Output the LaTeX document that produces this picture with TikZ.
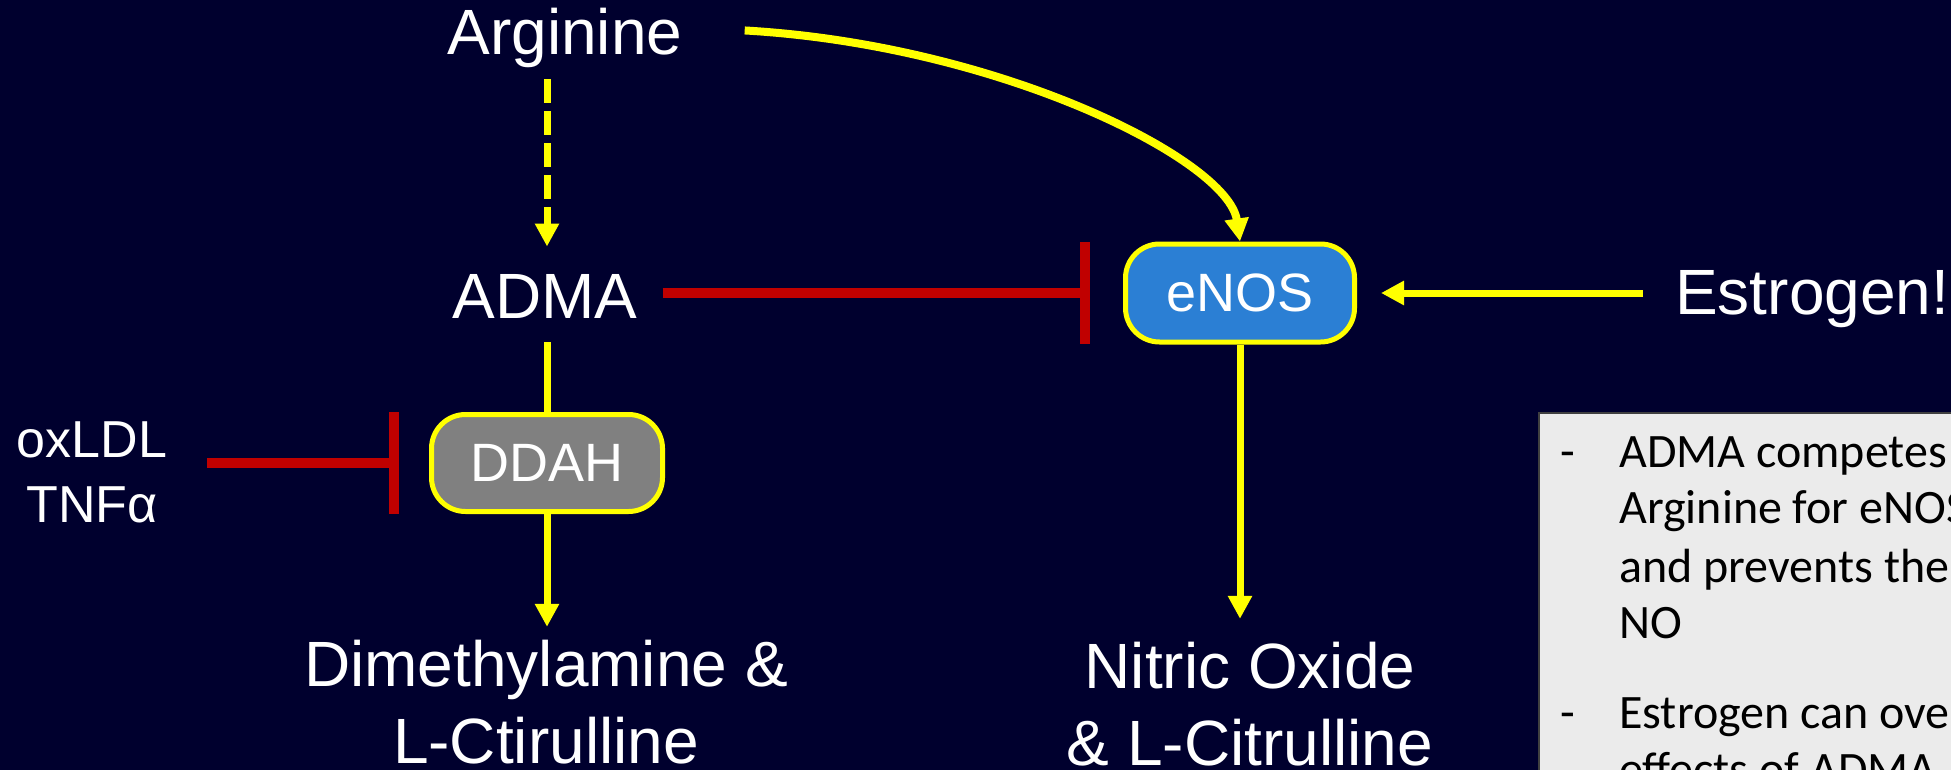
\documentclass[tikz,border=0pt]{standalone}
\usepackage{fontspec}
\setmainfont{Liberation Sans}
\newfontfamily\calib{Carlito}
\usetikzlibrary{arrows.meta,calc}
\definecolor{bg}{RGB}{0,0,46}
\definecolor{ylw}{RGB}{255,255,0}
\definecolor{rd}{RGB}{192,0,0}
\definecolor{enosblue}{RGB}{43,127,212}
\definecolor{ddahgray}{RGB}{128,128,128}
\definecolor{boxgray}{RGB}{235,235,235}
\tikzset{
  lbl/.style={text=white, inner sep=0pt, font=\fontsize{48}{57.4}\selectfont, align=center},
  smalllbl/.style={text=white, inner sep=0pt, font=\fontsize{39}{48.75}\selectfont, align=center},
  enzyme/.style={draw=ylw, line width=3.75pt, rounded corners=25.5pt, text=white,
    font=\fontsize{40.5}{46}\selectfont, inner sep=0pt},
  activ/.style={draw=ylw, line width=5.25pt, -{Triangle[width=17.25pt,length=17.25pt]}},
  inhib/.style={draw=rd, line width=7.5pt, -{Bar[width=76.5pt]}},
  boxtxt/.style={text=black, inner sep=0pt, font=\calib\fontsize{36}{43}\selectfont, anchor=base west}
}
\begin{document}
\begin{tikzpicture}[x=0.75pt,y=-0.75pt]
\useasboundingbox (0,0) rectangle (1951,770);
\clip (0,0) rectangle (1951,770);
\fill[bg] (0,0) rectangle (1951,770);

% nodes
\node[lbl, anchor=base] (arg) at (565,55) {Arginine};
\node[lbl, anchor=base] (adma) at (545,318) {ADMA};
\node[lbl, anchor=base west] (est) at (1675,314) {Estrogen!};
\node[enzyme, fill=enosblue, minimum width=171.75pt, minimum height=73.5pt] (enos) at (1240,293) {eNOS};
\node[enzyme, fill=ddahgray, minimum width=173.25pt, minimum height=72.75pt] (ddah) at (547,463) {DDAH};
\node[lbl, anchor=base] (dim) at (546,763) {Dimethylamine \&\\L-Ctirulline};
\node[lbl, anchor=base] (no) at (1250,765) {Nitric Oxide\\\& L-Citrulline};
\node[smalllbl, anchor=base] (ox) at (92,522) {oxLDL\\TNFα};

% connectors
\draw[activ, dash pattern=on 18pt off 6pt, shorten <=8pt, shorten >=20.4pt]
  (arg.south -| ddah.north) -- (adma.north -| ddah.north);
\draw[activ, line width=6pt] ($(arg.east)+(62,-8)$) .. controls (1000,45) and (1228,160) .. (enos.north);
\draw[inhib, shorten <=18.75pt, shorten >=24.75pt] (adma.east |- enos.west) -- (enos.west);
\draw[activ, shorten <=24pt, shorten >=18pt] (est.west |- enos.east) -- (enos.east);
\draw[draw=ylw, line width=5.25pt, shorten <=18pt] (adma.south -| ddah.north) -- (ddah.north);
\draw[activ, shorten >=9.75pt] (ddah.south) -- (dim.north -| ddah.south);
\draw[activ, shorten >=17.25pt] (enos.south) -- (no.north -| enos.south);
\draw[inhib, shorten <=30pt, shorten >=22.5pt] (ox.east |- ddah.west) -- (ddah.west);

% text box
\node[draw=black!75, line width=1.2pt, fill=boxgray, anchor=north west,
  minimum width=330pt, minimum height=300pt, inner sep=0pt] (tbox) at (1538,412) {};
\node[boxtxt] (b1) at (1560,467) {-};
\node[boxtxt] (t1) at (1619,467) {ADMA competes with};
\node[boxtxt] (t2) at (1619,523) {Arginine for eNOS};
\node[boxtxt] (t3) at (1619,582) {and prevents the};
\node[boxtxt] (t4) at (1619,638) {NO};
\node[boxtxt] (b2) at (1560,728) {-};
\node[boxtxt] (t5) at (1619,728) {Estrogen can over};
\node[boxtxt] (t6) at (1619,785) {effects of ADMA};
\end{tikzpicture}
\end{document}
